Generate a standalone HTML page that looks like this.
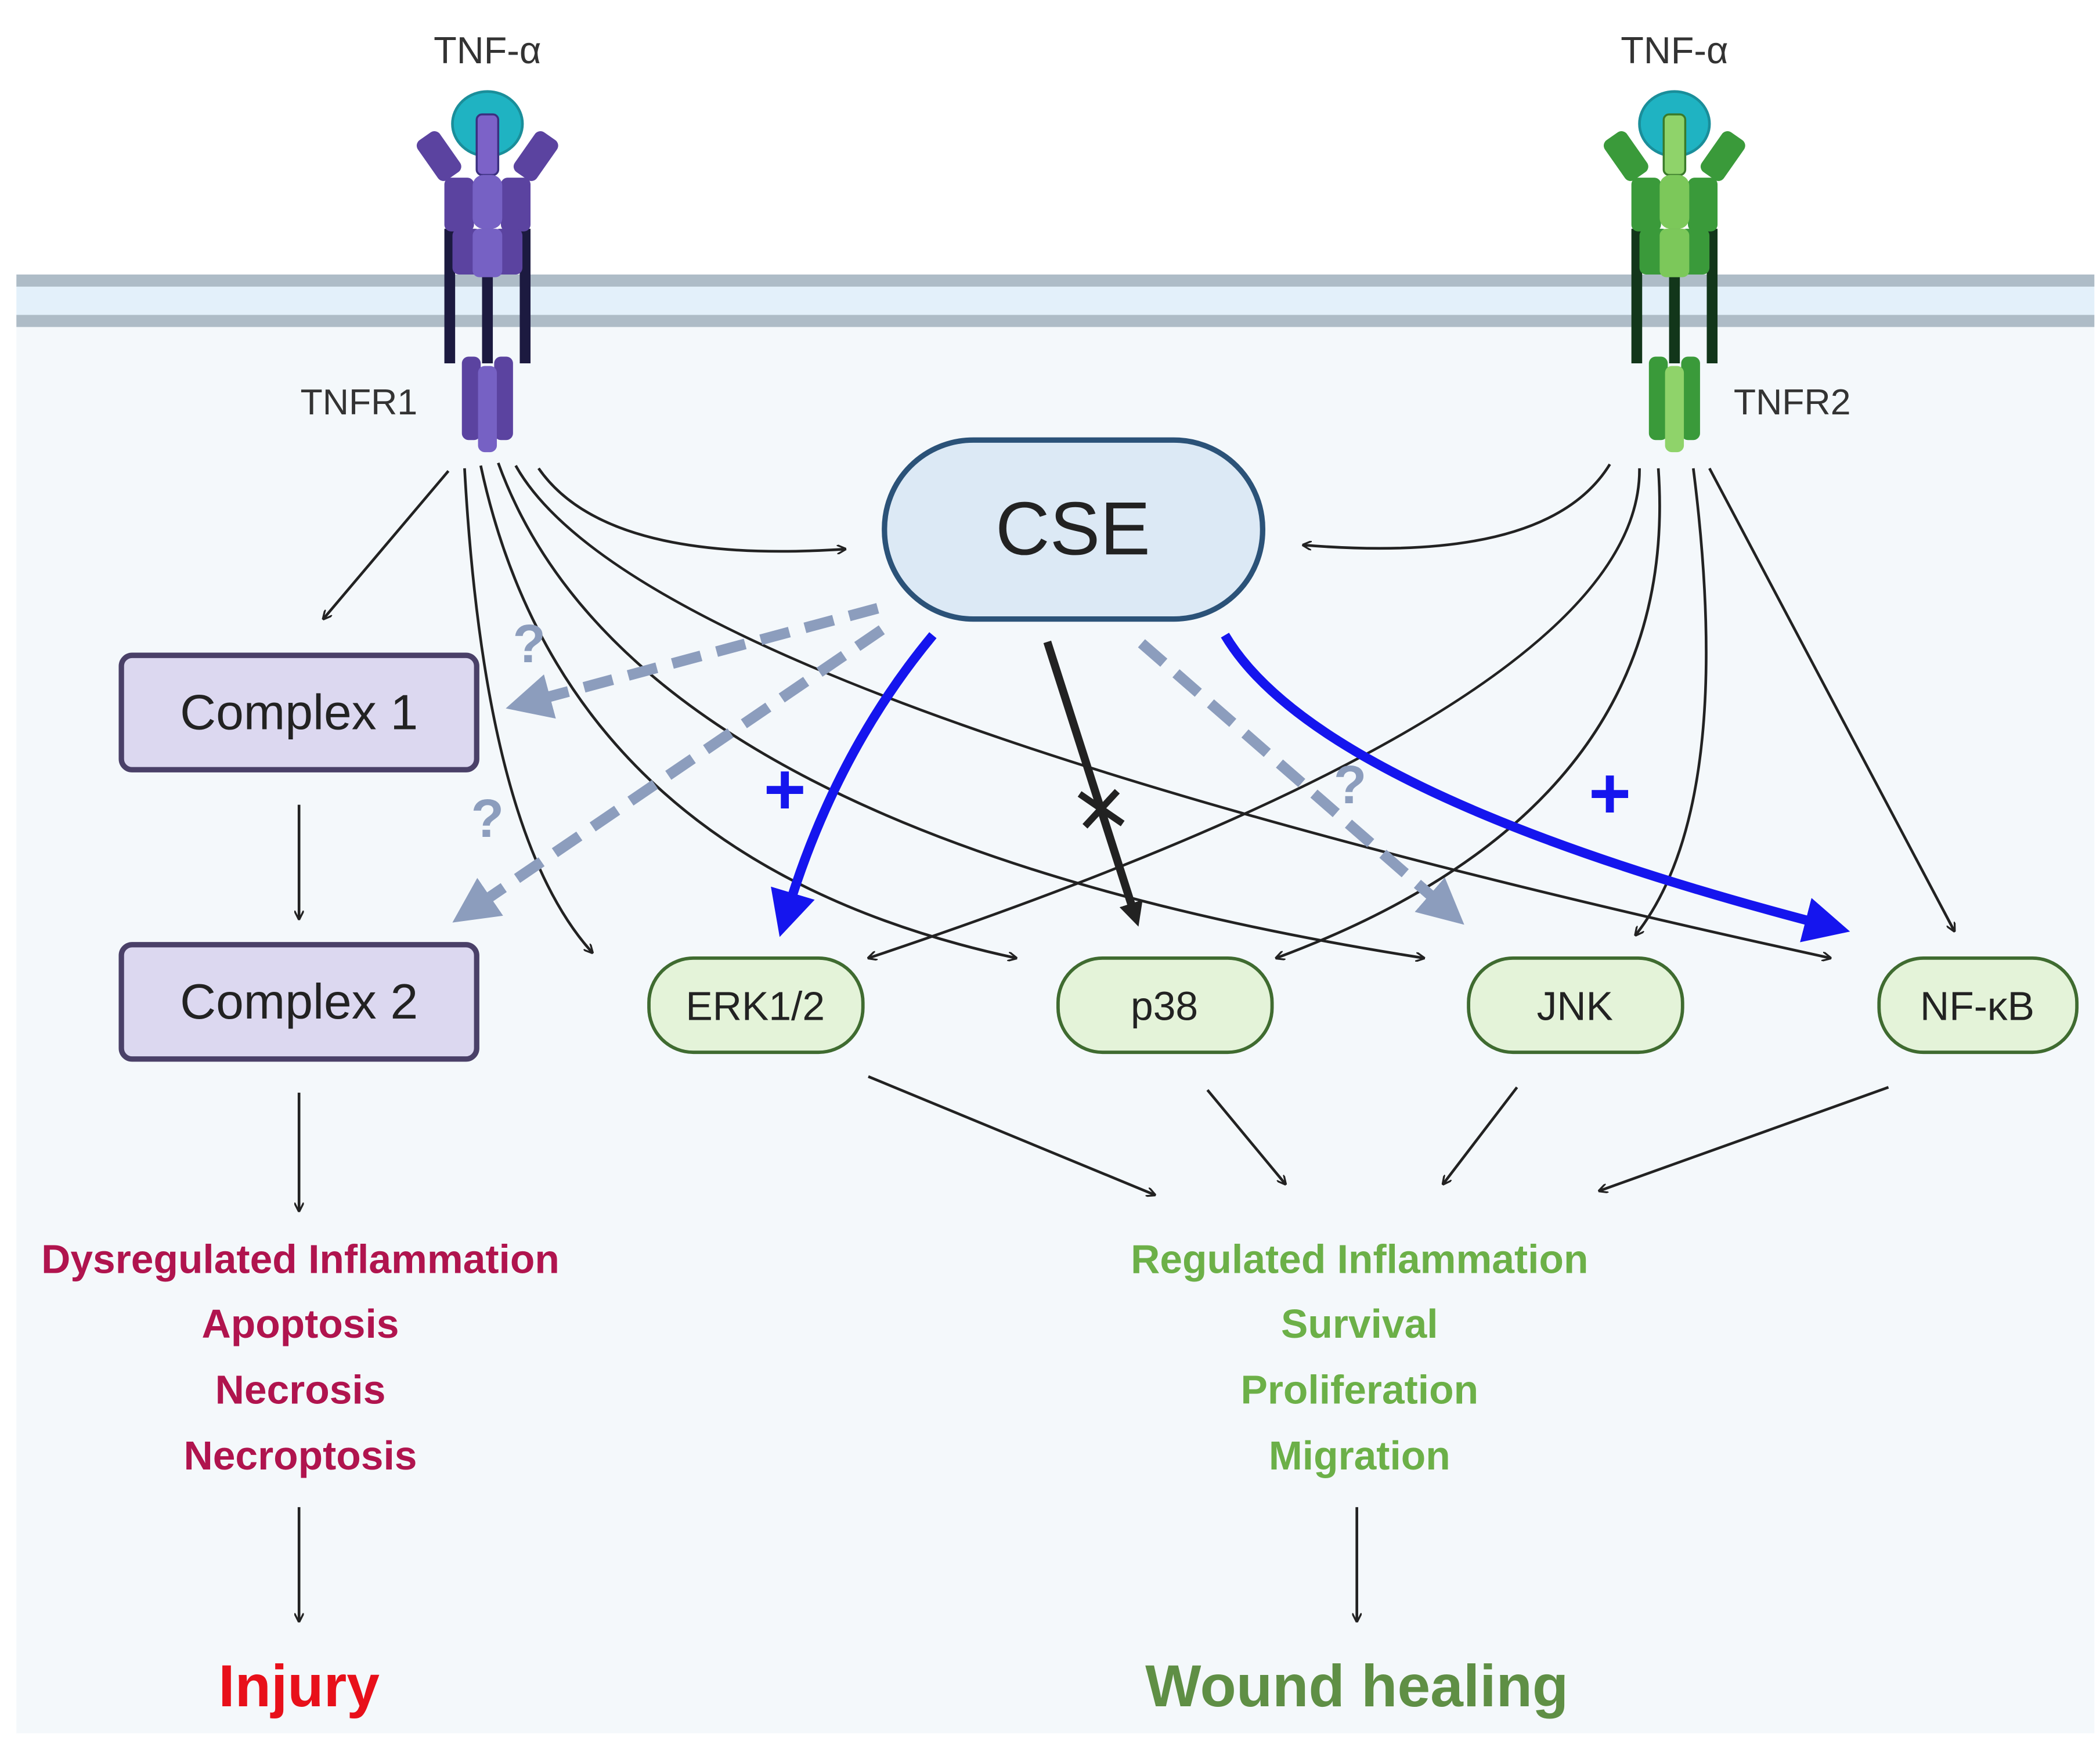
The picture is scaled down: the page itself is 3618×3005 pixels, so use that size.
<!DOCTYPE html>
<html><head><meta charset="utf-8"><style>html,body{margin:0;padding:0;background:#fff}svg{display:block}</style></head><body>
<svg width="3618" height="3005" viewBox="0 0 1560 1296" xmlns="http://www.w3.org/2000/svg" font-family="Liberation Sans, DejaVu Sans, sans-serif">
<defs>
<marker id="ab" viewBox="0 0 10 10" refX="9" refY="5" markerWidth="7" markerHeight="7" orient="auto" markerUnits="userSpaceOnUse"><path d="M0,0 L10,5 L0,10" fill="none" stroke="#222" stroke-width="2"/></marker>
<marker id="abk" viewBox="0 0 10 10" refX="5" refY="5" markerWidth="18" markerHeight="18" orient="auto" markerUnits="userSpaceOnUse"><path d="M0,0 L10,5 L0,10 z" fill="#222"/></marker>
<marker id="abl" viewBox="0 0 10 10" refX="5" refY="5" markerWidth="34" markerHeight="34" orient="auto" markerUnits="userSpaceOnUse"><path d="M0,0 L10,5 L0,10 z" fill="#1515ee"/></marker>
<marker id="agr" viewBox="0 0 10 10" refX="5" refY="5" markerWidth="34" markerHeight="34" orient="auto" markerUnits="userSpaceOnUse"><path d="M0,0 L10,5 L0,10 z" fill="#8c9dbd"/></marker>
</defs>
<rect width="1560" height="1296" fill="#fff"/>
<rect x="12" y="238" width="1544" height="1050" fill="#f4f8fb"/>
<rect x="12" y="208" width="1544" height="30" fill="#e3f0fa"/>
<rect x="12" y="204" width="1544" height="9" fill="#aebcc7"/>
<rect x="12" y="234" width="1544" height="9" fill="#aebcc7"/>

<!-- TNFR1 -->
<g>
<text x="362" y="47" font-size="28" text-anchor="middle" fill="#333">TNF-α</text>
<ellipse cx="362" cy="92" rx="26" ry="24" fill="#1fb3c2" stroke="#1a8e9a" stroke-width="2"/>
<rect x="330" y="170" width="8" height="100" fill="#1c1a40"/><rect x="358" y="170" width="8" height="100" fill="#1c1a40"/><rect x="386" y="170" width="8" height="100" fill="#1c1a40"/>
<rect x="316" y="98" width="20" height="36" rx="5" fill="#5b43a0" transform="rotate(-35 326 116)"/>
<rect x="388" y="98" width="20" height="36" rx="5" fill="#5b43a0" transform="rotate(35 398 116)"/>
<rect x="354" y="85" width="16" height="45" rx="4" fill="#7c62c8" stroke="#3b2f80" stroke-width="1.5"/>
<rect x="330" y="132" width="22" height="40" rx="5" fill="#5b43a0"/><rect x="372" y="132" width="22" height="40" rx="5" fill="#5b43a0"/>
<rect x="351" y="130" width="22" height="40" rx="8" fill="#7661c4"/>
<rect x="336" y="170" width="22" height="34" rx="5" fill="#5b43a0"/><rect x="366" y="170" width="22" height="34" rx="5" fill="#5b43a0"/>
<rect x="351" y="170" width="22" height="36" rx="5" fill="#7661c4"/>
<rect x="343" y="265" width="14" height="62" rx="5" fill="#5b43a0"/><rect x="367" y="265" width="14" height="62" rx="5" fill="#5b43a0"/>
<rect x="355" y="272" width="14" height="64" rx="5" fill="#7661c4"/>
<text x="310" y="308" font-size="27" text-anchor="end" fill="#333">TNFR1</text>
</g>
<!-- TNFR2 -->
<g>
<text x="1244" y="47" font-size="28" text-anchor="middle" fill="#333">TNF-α</text>
<ellipse cx="1244" cy="92" rx="26" ry="24" fill="#1fb3c2" stroke="#1a8e9a" stroke-width="2"/>
<rect x="1212" y="170" width="8" height="100" fill="#12361a"/><rect x="1240" y="170" width="8" height="100" fill="#12361a"/><rect x="1268" y="170" width="8" height="100" fill="#12361a"/>
<rect x="1198" y="98" width="20" height="36" rx="5" fill="#3a9a3a" transform="rotate(-35 1208 116)"/>
<rect x="1270" y="98" width="20" height="36" rx="5" fill="#3a9a3a" transform="rotate(35 1280 116)"/>
<rect x="1236" y="85" width="16" height="45" rx="4" fill="#8fd36a" stroke="#3a7a2a" stroke-width="1.5"/>
<rect x="1212" y="132" width="22" height="40" rx="5" fill="#3a9a3a"/><rect x="1254" y="132" width="22" height="40" rx="5" fill="#3a9a3a"/>
<rect x="1233" y="130" width="22" height="40" rx="8" fill="#7cc85a"/>
<rect x="1218" y="170" width="22" height="34" rx="5" fill="#3a9a3a"/><rect x="1248" y="170" width="22" height="34" rx="5" fill="#3a9a3a"/>
<rect x="1233" y="170" width="22" height="36" rx="5" fill="#7cc85a"/>
<rect x="1225" y="265" width="14" height="62" rx="5" fill="#3a9a3a"/><rect x="1249" y="265" width="14" height="62" rx="5" fill="#3a9a3a"/>
<rect x="1237" y="272" width="14" height="64" rx="5" fill="#8fd36a"/>
<text x="1288" y="308" font-size="27" fill="#333">TNFR2</text>
</g>

<!-- thin black arrows -->
<g fill="none" stroke="#222" stroke-width="2" marker-end="url(#ab)">
<path d="M333,350 L240,460"/>
<path d="M345,348 Q360,620 440,708"/>
<path d="M357,346 Q420,640 755,712"/>
<path d="M370,344 Q470,620 1058,712"/>
<path d="M383,346 Q480,520 1360,712"/>
<path d="M400,348 Q450,420 628,408"/>
<path d="M1196,345 Q1150,420 968,405"/>
<path d="M1218,348 Q1220,520 645,712"/>
<path d="M1232,348 Q1250,600 948,712"/>
<path d="M1258,348 Q1290,600 1215,695"/>
<path d="M1270,348 L1452,692"/>
<path d="M222,598 L222,683"/>
<path d="M222,812 L222,900"/>
<path d="M222,1120 L222,1205"/>
<path d="M1008,1120 L1008,1205"/>
<path d="M645,800 L858,888"/>
<path d="M897,810 L955,880"/>
<path d="M1127,808 L1072,880"/>
<path d="M1403,808 L1188,885"/>
</g>

<!-- dashed gray -->
<g fill="none" stroke="#8c9dbd" stroke-width="8" stroke-dasharray="22 12" marker-end="url(#agr)">
<path d="M652,452 L392,522"/>
<path d="M655,468 L350,676"/>
<path d="M848,478 L1075,676"/>
</g>
<g font-size="40" font-weight="bold" fill="#8c9dbd" text-anchor="middle">
<text x="393" y="492">?</text><text x="362" y="622">?</text><text x="1003" y="597">?</text>
</g>

<!-- blue arrows -->
<g fill="none" stroke="#1515ee" stroke-width="7" marker-end="url(#abl)">
<path d="M693,472 Q620,560 584,680"/>
<path d="M910,472 Q980,590 1358,688"/>
</g>
<g font-size="54" font-weight="bold" fill="#1515ee" text-anchor="middle">
<text x="583" y="605">+</text><text x="1196" y="608">+</text>
</g>
<!-- black thick -->
<path d="M778,477 L843,680" stroke="#222" stroke-width="6" fill="none" marker-end="url(#abk)"/>
<path d="M802,590 L834,612 M830,588 L806,614" stroke="#222" stroke-width="5"/>

<!-- CSE -->
<rect x="657" y="327" width="281" height="133" rx="66" fill="#dce9f5" stroke="#2b5278" stroke-width="4"/>
<text x="797" y="412" font-size="56" text-anchor="middle" fill="#222">CSE</text>

<!-- complexes -->
<rect x="90" y="487" width="264" height="85" rx="8" fill="#dcd8f0" stroke="#4a4068" stroke-width="4"/>
<text x="222" y="542" font-size="37" text-anchor="middle" fill="#222">Complex 1</text>
<rect x="90" y="702" width="264" height="85" rx="8" fill="#dcd8f0" stroke="#4a4068" stroke-width="4"/>
<text x="222" y="757" font-size="37" text-anchor="middle" fill="#222">Complex 2</text>

<!-- nodes -->
<g fill="#e4f3d9" stroke="#3f6b30" stroke-width="2.5">
<rect x="482" y="712" width="159" height="70" rx="33"/>
<rect x="786" y="712" width="159" height="70" rx="33"/>
<rect x="1091" y="712" width="159" height="70" rx="33"/>
<rect x="1396" y="712" width="147" height="70" rx="33"/>
</g>
<g font-size="30" text-anchor="middle" fill="#222">
<text x="561" y="758">ERK1/2</text><text x="865" y="758">p38</text><text x="1170" y="758">JNK</text><text x="1469" y="758">NF-κB</text>
</g>

<!-- outcomes -->
<g font-size="30" font-weight="bold" text-anchor="middle" fill="#b0144e">
<text x="223" y="946">Dysregulated Inflammation</text>
<text x="223" y="994">Apoptosis</text>
<text x="223" y="1043">Necrosis</text>
<text x="223" y="1092">Necroptosis</text>
</g>
<text x="222" y="1268" font-size="44" font-weight="bold" text-anchor="middle" fill="#e8101a">Injury</text>
<g font-size="30" font-weight="bold" text-anchor="middle" fill="#6cb048">
<text x="1010" y="946">Regulated Inflammation</text>
<text x="1010" y="994">Survival</text>
<text x="1010" y="1043">Proliferation</text>
<text x="1010" y="1092">Migration</text>
</g>
<text x="1008" y="1268" font-size="44" font-weight="bold" text-anchor="middle" fill="#5f8f45">Wound healing</text>
</svg>
</body></html>
